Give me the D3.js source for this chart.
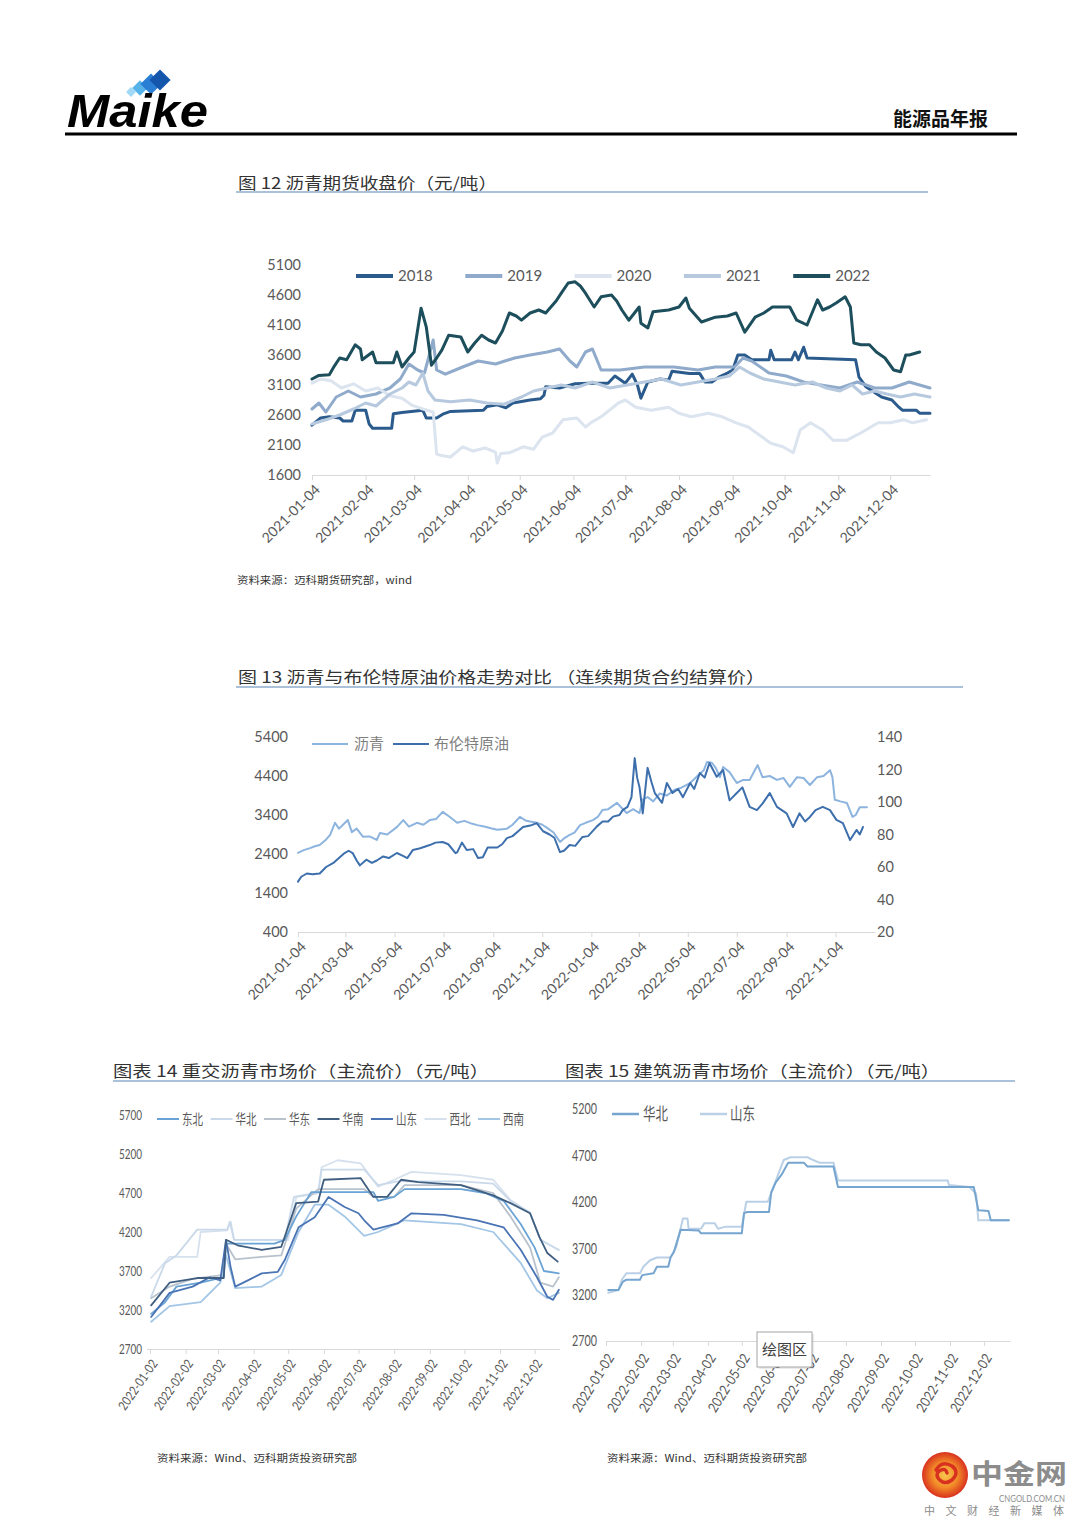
<!DOCTYPE html>
<html><head><meta charset="utf-8">
<script src="https://cdn.jsdelivr.net/npm/d3@7"></script>
<style>
html,body{margin:0;padding:0;background:#fff;}
svg{display:block;}
</style></head>
<body>
<svg id="page" width="1080" height="1527"></svg>
<script>
// ================= DATA =================
// Chart 12: 沥青期货收盘价 (x axis = 2021 calendar, one line per year)
const c12Years = ["2018","2019","2020","2021","2022"];
const c12YTicks = [1600,2100,2600,3100,3600,4100,4600,5100];
const c12XTicks = ["2021-01-04","2021-02-04","2021-03-04","2021-04-04","2021-05-04","2021-06-04","2021-07-04","2021-08-04","2021-09-04","2021-10-04","2021-11-04","2021-12-04"];
const c12_2018 = [["01-04",2430],["01-09",2550],["01-14",2570],["01-20",2550],["01-22",2500],["01-27",2500],["01-29",2680],["02-04",2680],["02-06",2450],["02-08",2380],["02-19",2380],["02-20",2620],["02-25",2640],["03-09",2680],["03-11",2550],["03-17",2550],["03-21",2620],["03-25",2660],["04-13",2680],["04-15",2740],["04-21",2770],["04-26",2720],["04-30",2800],["05-10",2850],["05-16",2870],["05-18",2930],["05-19",3070],["05-27",3050],["06-05",3120],["06-13",3130],["06-24",3130],["06-28",3250],["07-04",3130],["07-08",3280],["07-11",3100],["07-13",2880],["07-17",3150],["07-24",3200],["07-29",3180],["07-31",3330],["08-10",3290],["08-16",3290],["08-19",3150],["08-23",3150],["08-27",3230],["09-01",3300],["09-04",3350],["09-07",3600],["09-11",3600],["09-15",3520],["09-25",3520],["09-26",3680],["09-28",3520],["10-08",3520],["10-10",3650],["10-12",3520],["10-15",3730],["10-17",3550],["11-14",3520],["11-16",3230],["11-20",3070],["11-29",2900],["12-05",2850],["12-09",2730],["12-11",2680],["12-19",2680],["12-21",2630],["12-27",2630]];
const c12_2019 = [["01-04",2700],["01-08",2800],["01-12",2650],["01-18",2900],["01-25",3000],["02-01",2900],["02-10",2950],["02-18",3050],["02-24",3200],["03-01",3450],["03-06",3350],["03-10",3300],["03-15",3850],["03-17",3350],["03-22",3280],["04-01",3400],["04-10",3500],["04-20",3450],["05-01",3550],["05-10",3600],["05-20",3650],["05-27",3700],["06-02",3500],["06-06",3400],["06-11",3650],["06-15",3700],["06-20",3350],["07-01",3350],["07-15",3400],["08-01",3400],["08-15",3350],["08-25",3400],["09-05",3400],["09-10",3550],["09-15",3500],["09-25",3300],["10-05",3250],["10-15",3150],["10-25",3100],["11-05",3050],["11-15",3150],["11-25",3050],["12-05",3050],["12-15",3150],["12-27",3050]];
const c12_2020 = [["01-04",3130],["01-09",3200],["01-15",3170],["01-21",3050],["01-28",3120],["02-04",3000],["02-11",3050],["02-18",2920],["02-25",2880],["03-03",2760],["03-09",2700],["03-15",2650],["03-17",1950],["03-19",1930],["03-25",1900],["04-01",2070],["04-07",2000],["04-14",2050],["04-20",1980],["04-21",1800],["04-23",1960],["04-28",1970],["05-06",2070],["05-12",2030],["05-17",2230],["05-23",2300],["05-29",2520],["06-06",2550],["06-11",2400],["06-14",2470],["06-20",2570],["06-30",2800],["07-04",2850],["07-10",2730],["07-19",2680],["07-29",2730],["08-04",2630],["08-11",2570],["08-21",2630],["08-29",2570],["09-06",2470],["09-13",2400],["09-26",2130],["10-03",2070],["10-09",1970],["10-13",2350],["10-19",2470],["10-26",2350],["11-01",2180],["11-09",2180],["11-17",2300],["11-27",2470],["12-04",2470],["12-12",2520],["12-17",2470],["12-25",2520]];
const c12_2021 = [["01-04",2450],["01-12",2520],["01-20",2600],["01-28",2700],["02-04",2800],["02-10",2750],["02-18",2950],["02-25",3050],["03-01",3150],["03-05",3100],["03-09",3300],["03-12",3000],["03-16",2850],["03-25",2820],["04-05",2850],["04-15",2800],["04-25",2780],["05-05",2900],["05-12",3000],["05-20",3050],["05-28",3100],["06-05",3050],["06-15",3150],["06-25",3050],["07-05",3100],["07-15",3150],["07-25",3200],["08-05",3100],["08-15",3150],["08-25",3200],["09-02",3250],["09-08",3400],["09-14",3300],["09-22",3200],["10-01",3150],["10-10",3100],["10-20",3150],["10-28",3050],["11-05",3000],["11-12",3100],["11-18",2950],["11-25",3000],["12-02",2950],["12-10",2900],["12-18",2950],["12-27",2900]];
const c12_2022 = [["01-04",3200],["01-08",3260],["01-14",3270],["01-17",3420],["01-20",3550],["01-24",3520],["01-29",3770],["02-01",3700],["02-02",3520],["02-08",3650],["02-10",3470],["02-20",3470],["02-22",3650],["02-25",3400],["03-01",3550],["03-04",3650],["03-08",4380],["03-11",4070],["03-14",3430],["03-17",3550],["03-20",3680],["03-24",3930],["03-31",3900],["04-04",3650],["04-08",3800],["04-12",3930],["04-16",3850],["04-20",3800],["04-24",4000],["04-28",4300],["05-02",4250],["05-05",4180],["05-10",4300],["05-15",4350],["05-19",4300],["05-22",4400],["05-25",4500],["05-28",4630],["06-01",4800],["06-05",4820],["06-08",4750],["06-11",4630],["06-16",4400],["06-20",4570],["06-26",4600],["06-29",4500],["07-02",4350],["07-06",4180],["07-12",4400],["07-13",4130],["07-17",4050],["07-20",4320],["07-29",4350],["08-04",4400],["08-08",4550],["08-10",4380],["08-17",4150],["08-25",4230],["09-01",4250],["09-06",4300],["09-11",3980],["09-17",4230],["09-22",4300],["09-27",4400],["10-07",4400],["10-11",4180],["10-17",4100],["10-23",4520],["10-26",4350],["10-30",4400],["11-03",4470],["11-08",4570],["11-11",4400],["11-13",3800],["11-17",3770],["11-22",3770],["11-26",3650],["12-01",3550],["12-06",3350],["12-10",3320],["12-13",3600],["12-15",3600],["12-21",3650]];

// Chart 13: 沥青 (left axis) vs 布伦特原油 (right axis)
const c13Names = ["沥青","布伦特原油"];
const c13LeftTicks = [400,1400,2400,3400,4400,5400];
const c13RightTicks = [20,40,60,80,100,120,140];
const c13XTicks = ["2021-01-04","2021-03-04","2021-05-04","2021-07-04","2021-09-04","2021-11-04","2022-01-04","2022-03-04","2022-05-04","2022-07-04","2022-09-04","2022-11-04"];
const c13_asphalt = [["21-01-04",2430],["21-01-11",2500],["21-01-19",2550],["21-01-25",2600],["21-01-31",2630],["21-02-07",2750],["21-02-13",2890],["21-02-19",3200],["21-02-24",3050],["21-03-01",3150],["21-03-07",3270],["21-03-12",2960],["21-03-18",3050],["21-03-26",2840],["21-04-03",2850],["21-04-12",2760],["21-04-16",2940],["21-04-25",2900],["21-05-07",3090],["21-05-15",3270],["21-05-22",3100],["21-06-01",3200],["21-06-09",3150],["21-06-17",3270],["21-06-25",3300],["21-07-03",3480],["21-07-12",3350],["21-07-21",3200],["21-07-30",3250],["21-08-08",3180],["21-08-15",3140],["21-08-25",3100],["21-09-01",3060],["21-09-09",3020],["21-09-21",3050],["21-09-28",3150],["21-10-07",3350],["21-10-15",3250],["21-10-28",3200],["21-11-04",3150],["21-11-10",3070],["21-11-18",2950],["21-11-26",2710],["21-12-01",2800],["21-12-08",2890],["21-12-14",2950],["21-12-21",3140],["21-12-28",3200],["22-01-06",3270],["22-01-12",3350],["22-01-18",3530],["22-01-25",3550],["22-02-05",3710],["22-02-10",3600],["22-02-17",3450],["22-02-25",3550],["22-03-05",3450],["22-03-09",3800],["22-03-15",3860],["22-03-22",3750],["22-03-30",3950],["22-04-08",3900],["22-04-18",4050],["22-04-26",4100],["22-05-07",4220],["22-05-16",4400],["22-05-24",4550],["22-05-28",4760],["22-06-03",4740],["22-06-08",4600],["22-06-13",4370],["22-06-17",4630],["22-06-25",4500],["22-07-04",4220],["22-07-12",4300],["22-07-20",4300],["22-07-30",4680],["22-08-05",4370],["22-08-14",4400],["22-08-23",4300],["22-08-31",4350],["22-09-08",4120],["22-09-17",4370],["22-09-25",4350],["22-10-03",4170],["22-10-12",4370],["22-10-20",4400],["22-10-28",4550],["22-10-31",4370],["22-11-03",3790],["22-11-10",3750],["22-11-18",3710],["22-11-25",3350],["22-11-29",3400],["22-12-04",3600],["22-12-13",3600]];
const c13_brent = [["21-01-04",51],["21-01-08",54],["21-01-15",56],["21-01-22",55.5],["21-01-31",56],["21-02-08",60],["21-02-17",62.5],["21-02-25",66],["21-03-03",68.6],["21-03-08",70],["21-03-13",68.6],["21-03-18",64],["21-03-22",61],["21-03-30",64.5],["21-04-06",62.5],["21-04-12",64],["21-04-20",66.5],["21-04-27",65.5],["21-05-07",68.6],["21-05-14",67],["21-05-20",65.5],["21-05-27",70.5],["21-06-05",71.5],["21-06-17",73.5],["21-06-24",75],["21-07-03",75.4],["21-07-10",74],["21-07-19",68.5],["21-07-21",69],["21-07-27",75],["21-08-02",70.5],["21-08-10",71],["21-08-16",65.5],["21-08-22",66],["21-08-28",72],["21-09-09",72],["21-09-15",74],["21-09-21",77.8],["21-09-28",79],["21-10-05",82],["21-10-11",84.6],["21-10-20",85.5],["21-10-28",87],["21-11-05",82],["21-11-13",80],["21-11-19",78],["21-11-26",69.2],["21-12-01",70],["21-12-08",73.5],["21-12-15",73],["21-12-24",78.5],["21-12-31",79],["22-01-11",85],["22-01-18",88],["22-01-25",88],["22-01-31",91],["22-02-08",92],["22-02-12",95],["22-02-18",97],["22-02-23",103],["22-02-27",127],["22-03-02",115],["22-03-05",109],["22-03-09",93],["22-03-15",121],["22-03-20",112],["22-03-24",105.5],["22-04-02",99.5],["22-04-08",111.7],["22-04-15",105.5],["22-04-22",108],["22-04-28",103],["22-05-07",111.7],["22-05-12",108],["22-05-19",117.8],["22-05-25",115],["22-05-31",124],["22-06-09",115.5],["22-06-17",119.7],["22-06-25",101],["22-07-04",105.5],["22-07-11",109],["22-07-20",97],["22-07-29",95],["22-08-05",99],["22-08-14",105.5],["22-08-23",97],["22-09-04",93],["22-09-12",84.6],["22-09-20",93],["22-09-27",88],["22-10-03",90.8],["22-10-10",95],["22-10-19",97],["22-10-28",95],["22-11-05",89],["22-11-13",87],["22-11-22",76.6],["22-11-30",82.8],["22-12-04",80],["22-12-08",84.6]];

// Chart 14: 重交沥青市场价 (2022)
const c14Regions = ["东北","华北","华东","华南","山东","西北","西南"];
const c14YTicks = [2700,3200,3700,4200,4700,5200,5700];
const c14XTicks = ["2022-01-02","2022-02-02","2022-03-02","2022-04-02","2022-05-02","2022-06-02","2022-07-02","2022-08-02","2022-09-02","2022-10-02","2022-11-02","2022-12-02"];
const c14_dongbei = [["01-03",3150],["01-15",3300],["01-25",3500],["02-15",3550],["03-07",3620],["03-09",4050],["03-20",4050],["04-20",4050],["04-29",4100],["05-09",4400],["05-22",4710],["07-15",4710],["07-19",4600],["08-02",4650],["08-11",4750],["09-29",4750],["10-20",4700],["11-05",4600],["11-20",4300],["12-02",4000],["12-10",3700],["12-23",3670]];
const c14_huabei = [["01-03",3370],["01-15",3800],["01-25",3900],["02-12",4230],["03-10",4230],["03-13",4330],["03-16",4100],["04-29",4100],["05-07",4650],["05-28",4700],["05-31",5000],["07-07",5000],["07-19",4800],["08-05",4850],["09-29",4850],["10-27",4820],["11-11",4600],["11-28",4450],["12-07",4100],["12-23",3970]];
const c14_huadong = [["01-03",3350],["01-19",3500],["02-08",3600],["03-07",3650],["03-09",4050],["03-17",3850],["04-09",3880],["04-26",3900],["05-09",4500],["05-28",4750],["07-07",4750],["07-15",4650],["08-02",4650],["08-11",4800],["09-29",4800],["10-27",4700],["11-11",4400],["11-28",4000],["12-07",3550],["12-18",3500],["12-23",3620]];
const c14_huanan = [["01-03",3260],["01-19",3550],["02-12",3610],["03-07",3610],["03-09",4100],["03-19",4030],["04-09",3970],["04-26",4010],["05-09",4570],["05-28",4590],["06-02",4870],["07-04",4890],["07-15",4650],["07-27",4650],["08-08",4870],["08-23",4840],["09-29",4800],["10-27",4670],["11-11",4570],["11-28",4440],["12-06",4140],["12-13",3930],["12-22",3820]];
const c14_shandong = [["01-03",3110],["01-19",3420],["02-08",3500],["02-23",3620],["03-04",3580],["03-09",4100],["03-13",3750],["03-17",3500],["03-28",3580],["04-09",3670],["04-23",3690],["04-29",3840],["05-11",4260],["05-25",4390],["06-06",4650],["06-20",4520],["07-02",4440],["07-07",4350],["07-15",4230],["08-05",4310],["08-17",4440],["09-14",4420],["10-13",4350],["11-05",4260],["11-20",3970],["12-04",3620],["12-13",3370],["12-18",3330],["12-23",3460]];
const c14_xibei = [["01-03",3610],["01-19",3880],["02-12",3880],["02-15",4200],["03-10",4220],["03-12",4330],["03-16",4100],["05-02",4100],["05-09",4650],["05-28",4700],["05-31",5030],["06-14",5120],["07-04",5080],["07-19",4780],["08-02",4870],["08-17",4970],["09-29",4930],["10-27",4870],["11-11",4610],["11-28",4440],["12-07",4100],["12-23",3970]];
const c14_xinan = [["01-03",3050],["01-19",3250],["02-15",3300],["03-04",3550],["03-09",3900],["03-17",3480],["04-09",3500],["04-26",3650],["05-11",4200],["05-25",4550],["06-06",4550],["06-20",4400],["07-07",4150],["07-19",4200],["08-11",4350],["09-29",4300],["10-27",4200],["11-20",3800],["12-04",3450],["12-13",3350],["12-23",3420]];

// Chart 15: 建筑沥青市场价 (2022)
const c15Regions = ["华北","山东"];
const c15YTicks = [2700,3200,3700,4200,4700,5200];
const c15XTicks = c14XTicks;
const c15_huabei = [["01-04",3250],["01-13",3250],["01-17",3340],["01-20",3360],["02-01",3360],["02-03",3410],["02-13",3430],["02-16",3500],["02-26",3500],["02-28",3600],["03-03",3660],["03-09",3900],["03-25",3890],["03-27",3860],["05-02",3860],["05-04",4080],["05-07",4090],["05-26",4090],["05-28",4300],["06-01",4410],["06-06",4490],["06-12",4620],["06-26",4620],["06-29",4580],["07-22",4580],["07-26",4360],["11-23",4360],["11-27",4110],["12-06",4100],["12-08",4000],["12-24",4000]];
const c15_shandong = [["01-04",3220],["01-13",3250],["01-16",3360],["01-20",3430],["02-01",3430],["02-04",3500],["02-10",3570],["02-16",3600],["02-28",3600],["03-05",3710],["03-11",4020],["03-15",4020],["03-16",3910],["03-27",3910],["03-30",3970],["04-08",3970],["04-11",3910],["04-17",3930],["05-02",3930],["05-06",4200],["05-25",4200],["06-03",4490],["06-08",4650],["06-14",4680],["06-29",4680],["07-04",4650],["07-10",4620],["07-22",4620],["07-26",4430],["10-31",4430],["11-01",4380],["11-19",4360],["11-25",4290],["11-27",4000],["12-24",4000]];

// ================= DRAW =================
const svg = d3.select("#page");
const P = d3.timeParse("%Y-%m-%d");
const CJK = "'Noto Sans CJK SC','Noto Sans',sans-serif";
const NUM = "Lato,'Liberation Sans',sans-serif";
const AX = "#595959";
const fmtInt = d3.format("d");
const fmtDate = d3.timeFormat("%Y-%m-%d");

function txt(parent, x, y, s, o) {
  const t = parent.append("text").attr("x", x).attr("y", y).text(s);
  Object.entries(o || {}).forEach(([k, v]) => t.attr(k, v));
  return t;
}
function drawSeries(g, data, xs, ys, parse, color, w) {
  const line = d3.line().x(d => xs(parse(d[0]))).y(d => ys(d[1])).curve(d3.curveLinear);
  g.append("path").datum(data).attr("d", line).attr("fill", "none")
    .attr("stroke", color).attr("stroke-width", w).attr("stroke-linejoin", "round").attr("stroke-linecap", "round");
}
function styleAxisX(sel, fontSize, rot, tx, ty, tl, fam) {
  sel.select(".domain").attr("stroke", "#d9d9d9").attr("stroke-width", 1.2);
  sel.selectAll(".tick line").attr("stroke", "#d9d9d9");
  const t = sel.selectAll(".tick text").attr("fill", AX).attr("font-size", fontSize)
    .attr("font-family", fam || NUM).attr("x", 0).attr("y", 0).attr("dy", "0.35em")
    .attr("text-anchor", "end").attr("transform", `translate(${tx},${ty}) rotate(${rot})`);
  if (tl) t.attr("textLength", tl).attr("lengthAdjust", "spacingAndGlyphs");
}
function styleAxisY(sel, fontSize, anchor, tl) {
  sel.select(".domain").remove();
  sel.selectAll(".tick line").remove();
  const t = sel.selectAll(".tick text").attr("fill", AX).attr("font-size", fontSize)
    .attr("font-family", NUM).attr("x", 0).attr("text-anchor", anchor);
  if (tl) t.attr("textLength", tl).attr("lengthAdjust", "spacingAndGlyphs");
}

// ---------- Header ----------
const hdr = svg.append("g");
[[131,92,3.5,"#9fd9f5"],[140,88,5.5,"#55b3ea"],[151,84,7.5,"#2a7fd4"],[160,80,7.5,"#1556ad"]].forEach(d => {
  hdr.append("rect").attr("x", d[0]-d[2]).attr("y", d[1]-d[2]).attr("width", d[2]*2).attr("height", d[2]*2)
    .attr("fill", d[3]).attr("transform", `rotate(45,${d[0]},${d[1]})`);
});
txt(hdr, 67, 127, "Maike", {"font-family":"'Liberation Sans',Arial,sans-serif","font-weight":"bold","font-style":"italic","font-size":46,"fill":"#000","textLength":141,"lengthAdjust":"spacingAndGlyphs"});
txt(hdr, 893, 126, "能源品年报", {"font-family":CJK,"font-weight":"bold","font-size":19,"fill":"#111","textLength":95,"lengthAdjust":"spacingAndGlyphs"});
hdr.append("line").attr("x1",65).attr("x2",1017).attr("y1",134).attr("y2",134).attr("stroke","#000").attr("stroke-width",3);

// ---------- Chart 12 ----------
const g12 = svg.append("g");
txt(g12, 238, 189, "图 12  沥青期货收盘价（元/吨）", {"font-family":CJK,"font-size":16,"fill":"#333","textLength":259,"lengthAdjust":"spacingAndGlyphs"});
g12.append("line").attr("x1",236).attr("x2",928).attr("y1",192).attr("y2",192).attr("stroke","#8eadcc").attr("stroke-width",1.5);
const x12 = d3.scaleTime().domain([P("2021-01-04"), P("2021-12-27")]).range([312, 930]);
const y12 = d3.scaleLinear().domain([1600, 5100]).range([475, 265]);
g12.append("g").attr("transform","translate(0,475)")
  .call(d3.axisBottom(x12).tickValues(c12XTicks.map(P)).tickSize(5).tickSizeOuter(0).tickFormat(fmtDate))
  .call(s => styleAxisX(s, 14, -45, 5, 12));
g12.append("g").attr("transform","translate(301,0)")
  .call(d3.axisLeft(y12).tickValues(c12YTicks).tickSize(0).tickPadding(0).tickFormat(fmtInt))
  .call(s => styleAxisY(s, 14.5, "end"));
const c12Colors = ["#2b5b8c","#8faacb","#dbe4ef","#b7c9de","#1d4e5c"];
const c12Data = [c12_2018, c12_2019, c12_2020, c12_2021, c12_2022];
const p12 = s => P("2021-" + s);
c12Data.forEach((d, i) => drawSeries(g12, d, x12, y12, p12, c12Colors[i], 3));
c12Years.forEach((name, i) => {
  const lx = 356 + i * 109.3;
  g12.append("line").attr("x1", lx).attr("x2", lx + 37).attr("y1", 276).attr("y2", 276)
    .attr("stroke", c12Colors[i]).attr("stroke-width", 4);
  txt(g12, lx + 42, 276, name, {"dy":"0.35em","font-family":NUM,"font-size":15,"fill":AX});
});
txt(g12, 237, 584, "资料来源：迈科期货研究部，wind", {"font-family":CJK,"font-size":10,"fill":"#333","textLength":175,"lengthAdjust":"spacingAndGlyphs"});

// ---------- Chart 13 ----------
const g13 = svg.append("g");
txt(g13, 238, 683, "图 13  沥青与布伦特原油价格走势对比  （连续期货合约结算价）", {"font-family":CJK,"font-size":16,"fill":"#333","textLength":527,"lengthAdjust":"spacingAndGlyphs"});
g13.append("line").attr("x1",236).attr("x2",963).attr("y1",687).attr("y2",687).attr("stroke","#8eadcc").attr("stroke-width",1.5);
const x13 = d3.scaleTime().domain([P("2021-01-04"), P("2022-12-23")]).range([298, 875]);
const yL13 = d3.scaleLinear().domain([400, 5400]).range([932, 737]);
const yR13 = d3.scaleLinear().domain([20, 140]).range([932, 737]);
g13.append("g").attr("transform","translate(0,932)")
  .call(d3.axisBottom(x13).tickValues(c13XTicks.map(P)).tickSize(5).tickSizeOuter(0).tickFormat(fmtDate))
  .call(s => styleAxisX(s, 14, -45, 5, 12));
g13.append("g").attr("transform","translate(288,0)")
  .call(d3.axisLeft(yL13).tickValues(c13LeftTicks).tickSize(0).tickPadding(0).tickFormat(fmtInt))
  .call(s => styleAxisY(s, 14.5, "end"));
g13.append("g").attr("transform","translate(877,0)")
  .call(d3.axisRight(yR13).tickValues(c13RightTicks).tickSize(0).tickPadding(0).tickFormat(fmtInt))
  .call(s => styleAxisY(s, 14.5, "start"));
const p13 = s => P("20" + s);
const c13Colors = ["#8db4de","#3d6fad"];
drawSeries(g13, c13_asphalt, x13, yL13, p13, c13Colors[0], 2);
drawSeries(g13, c13_brent, x13, yR13, p13, c13Colors[1], 2);
[[312, 354], [393, 434]].forEach((pos, i) => {
  g13.append("line").attr("x1", pos[0]).attr("x2", pos[0] + 36).attr("y1", 744).attr("y2", 744)
    .attr("stroke", c13Colors[i]).attr("stroke-width", 2);
  txt(g13, pos[1], 744, c13Names[i], {"dy":"0.35em","font-family":CJK,"font-size":15,"fill":"#7f7f7f"});
});

// ---------- Chart 14 ----------
const g14 = svg.append("g");
txt(g14, 113, 1077, "图表 14  重交沥青市场价（主流价）（元/吨）", {"font-family":CJK,"font-size":16,"fill":"#333","textLength":376,"lengthAdjust":"spacingAndGlyphs"});
g14.append("line").attr("x1",113).attr("x2",1015).attr("y1",1081).attr("y2",1081).attr("stroke","#8eadcc").attr("stroke-width",1.5);
const x14 = d3.scaleTime().domain([P("2022-01-02"), P("2022-12-24")]).range([150, 560]);
const y14 = d3.scaleLinear().domain([2700, 5700]).range([1349, 1115]);
const ax14 = g14.append("g").attr("transform","translate(0,1349)")
  .call(d3.axisBottom(x14).tickValues(c14XTicks.map(P)).tickSize(5).tickSizeOuter(0).tickFormat(fmtDate))
  .call(s => styleAxisX(s, 13, -55, 4, 12, 58));
ax14.select(".domain").attr("d", "M147,0.5H560");
g14.append("g").attr("transform","translate(142,0)")
  .call(d3.axisLeft(y14).tickValues(c14YTicks).tickSize(0).tickPadding(0).tickFormat(fmtInt))
  .call(s => styleAxisY(s, 13, "end", 23));
const p14 = s => P("2022-" + s);
const c14Colors = ["#6aa3d5","#c9d9ea","#b9c2cc","#3f5e80","#4a74b4","#d6e1ee","#a3c6e6"];
const c14Data = [c14_dongbei, c14_huabei, c14_huadong, c14_huanan, c14_shandong, c14_xibei, c14_xinan];
[5,1,2,6,0,4,3].forEach(i => drawSeries(g14, c14Data[i], x14, y14, p14, c14Colors[i], 1.8));
c14Regions.forEach((name, i) => {
  const lx = 157 + i * 53.5;
  g14.append("line").attr("x1", lx).attr("x2", lx + 22).attr("y1", 1119).attr("y2", 1119)
    .attr("stroke", c14Colors[i]).attr("stroke-width", 2);
  txt(g14, lx + 25, 1119, name, {"dy":"0.35em","font-family":CJK,"font-size":14,"fill":"#595959","textLength":21,"lengthAdjust":"spacingAndGlyphs"});
});
txt(g14, 157, 1462, "资料来源：Wind、迈科期货投资研究部", {"font-family":CJK,"font-size":10,"fill":"#333","textLength":200,"lengthAdjust":"spacingAndGlyphs"});

// ---------- Chart 15 ----------
const g15 = svg.append("g");
txt(g15, 565, 1077, "图表  15 建筑沥青市场价（主流价）（元/吨）", {"font-family":CJK,"font-size":16,"fill":"#333","textLength":375,"lengthAdjust":"spacingAndGlyphs"});
const x15 = d3.scaleTime().domain([P("2022-01-02"), P("2022-12-25")]).range([606, 1010]);
const y15 = d3.scaleLinear().domain([2700, 5200]).range([1341, 1109]);
g15.append("g").attr("transform","translate(0,1341)")
  .call(d3.axisBottom(x15).tickValues(c15XTicks.map(P)).tickSize(5).tickSizeOuter(0).tickFormat(fmtDate))
  .call(s => styleAxisX(s, 14, -58, 4, 14, 66));
g15.append("g").attr("transform","translate(597,0)")
  .call(d3.axisLeft(y15).tickValues(c15YTicks).tickSize(0).tickPadding(0).tickFormat(fmtInt))
  .call(s => styleAxisY(s, 15, "end", 25));
const c15Colors = ["#76a5cf","#b9d0e6"];
drawSeries(g15, c15_shandong, x15, y15, p14, c15Colors[1], 2);
drawSeries(g15, c15_huabei, x15, y15, p14, c15Colors[0], 2);
[[612, 643], [700, 730]].forEach((pos, i) => {
  g15.append("line").attr("x1", pos[0]).attr("x2", pos[0] + 27).attr("y1", 1114).attr("y2", 1114)
    .attr("stroke", c15Colors[i]).attr("stroke-width", 2.5);
  txt(g15, pos[1], 1114, c15Regions[i], {"dy":"0.35em","font-family":CJK,"font-size":17,"fill":"#595959","textLength":25,"lengthAdjust":"spacingAndGlyphs"});
});
// "绘图区" tooltip box
g15.append("rect").attr("x",759).attr("y",1334).attr("width",55).attr("height",35).attr("fill","#000").attr("opacity",0.08);
g15.append("rect").attr("x",757).attr("y",1332).attr("width",55).attr("height",35).attr("fill","#fff").attr("stroke","#a6a6a6");
txt(g15, 784.5, 1350, "绘图区", {"dy":"0.35em","text-anchor":"middle","font-family":CJK,"font-size":15,"fill":"#404040"});
txt(g15, 607, 1462, "资料来源：Wind、迈科期货投资研究部", {"font-family":CJK,"font-size":10,"fill":"#333","textLength":200,"lengthAdjust":"spacingAndGlyphs"});

// ---------- Watermark ----------
const wm = svg.append("g");
const grad = svg.append("defs").append("radialGradient").attr("id","wmg");
grad.append("stop").attr("offset","0%").attr("stop-color","#f9c74f");
grad.append("stop").attr("offset","55%").attr("stop-color","#f28c28");
grad.append("stop").attr("offset","100%").attr("stop-color","#d9311f");
wm.append("circle").attr("cx",945).attr("cy",1475).attr("r",23).attr("fill","url(#wmg)");
wm.append("path").attr("d","M936,1470 q6,-10 16,-4 q8,6 0,14 q-8,6 -14,-2 q-3,-5 3,-8 q5,-2 6,3")
  .attr("fill","none").attr("stroke","#d9311f").attr("stroke-width",3.5).attr("stroke-linecap","round");
txt(wm, 971, 1484, "中金网", {"font-family":CJK,"font-weight":"bold","font-size":27,"fill":"#8c8c8c","textLength":96,"lengthAdjust":"spacingAndGlyphs"});
txt(wm, 999, 1502, "CNGOLD.COM.CN", {"font-family":NUM,"font-size":8.5,"fill":"#8c8c8c","textLength":66,"lengthAdjust":"spacingAndGlyphs"});
txt(wm, 924, 1515, "中文财经新媒体", {"font-family":CJK,"font-size":11,"fill":"#8c8c8c","textLength":140,"lengthAdjust":"spacing"});
</script>
</body></html>
